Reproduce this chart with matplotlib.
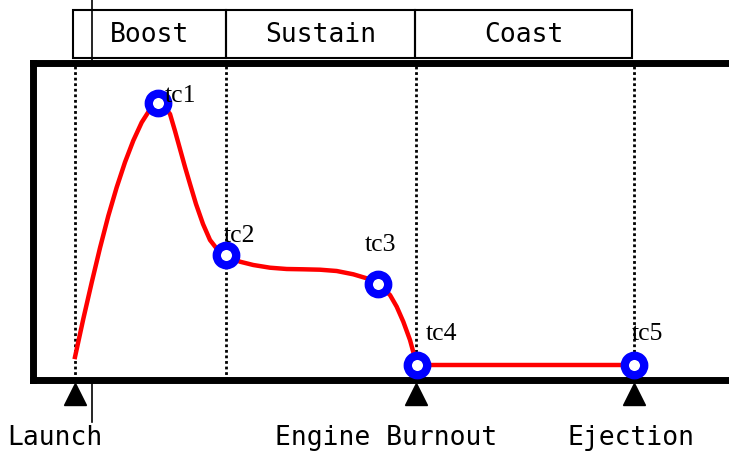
import matplotlib
matplotlib.use('Agg')
import matplotlib.pyplot as plt
from matplotlib.lines import Line2D
from matplotlib.patches import Rectangle

# thrust curve (time, thrust)
curve_t = [0.0, 0.83, 1.67, 2.5, 3.33, 4.17, 5.0, 5.83, 6.67, 7.5, 8.33,
           9.1, 9.5, 10.0, 10.5, 11.0, 11.5, 12.1, 12.8, 13.5, 14.2, 15.1,
           16.5, 17.83, 19.5, 21.17, 22.83, 24.5, 26.17, 27.83, 29.17, 30.33,
           31.5, 32.17, 32.83, 33.5, 34.0, 34.2, 55.9]
curve_y = [2.25, 6.06, 9.7, 13.16, 16.36, 19.22, 21.73, 23.89, 25.71, 27.01, 27.7,
           27.05, 26.55, 24.85, 23.05, 21.25, 19.55, 17.55, 15.55, 13.95, 13.05, 12.45,
           11.78, 11.45, 11.18, 11.05, 11.02, 10.98, 10.85, 10.52, 10.12, 9.52,
           8.45, 7.28, 5.78, 3.95, 2.12, 1.45, 1.45]

# control points
tc_names = ['tc1', 'tc2', 'tc3', 'tc4', 'tc5']
tc_t = [8.33, 15.1, 30.33, 34.2, 55.9]
tc_y = [27.7, 12.45, 9.52, 1.45, 1.45]

# phases
phase_names = ['Boost', 'Sustain', 'Coast']
phase_edges = [-0.2, 15.1, 34.0, 55.7]
phase_lines = [0.0, 15.1, 34.1, 55.9]

# events
event_names = ['Launch', 'Engine Burnout', 'Ejection']
event_t = [0.0, 34.1, 55.9]

W, H = 729, 451
fig = plt.figure(figsize=(W / 100, H / 100), dpi=100)
ax = fig.add_axes([32.5 / W, (H - 379.5) / H, (800 - 32.5) / W, 317 / H])
ax.set_xlim(-4.25, 72.5)
ax.set_ylim(0, 31.7)
ax.set_xticks([])
ax.set_yticks([])
for s in ax.spines.values():
    s.set_linewidth(5)

# stray vertical line behind the axes
fig.add_artist(Line2D([92 / W, 92 / W], [1, 1 - 422 / H], color='black',
                      lw=1.2, zorder=-1))

for x in phase_lines:
    ax.axvline(x, color='black', lw=2, ls=(0, (1, 1)), zorder=1)

ax.plot(curve_t, curve_y, color='red', lw=3.2, zorder=2,
        solid_joinstyle='round')
ax.plot(tc_t, tc_y, 'o', ms=14, mew=6, mec='blue', mfc='white', zorder=3)

tc_off = [(6, 1), (-2, 13), (-14, 33), (9, 25), (-2, 25)]
for name, t, y, off in zip(tc_names, tc_t, tc_y, tc_off):
    ax.annotate(name, (t, y), xytext=off, textcoords='offset pixels',
                family='Liberation Serif', fontsize=18.5, ha='left', va='baseline',
                zorder=4)

# phase boxes above the axes
for i, name in enumerate(phase_names):
    x0, x1 = phase_edges[i], phase_edges[i + 1]
    ax.add_patch(Rectangle((x0, 32.15), x1 - x0, 4.8, fill=False, lw=1.5,
                           ec='black', clip_on=False))
    ax.text((x0 + x1) / 2, 34.45, name, family='DejaVu Sans Mono', fontsize=19,
            ha='center', va='center', clip_on=False)

# event markers below the axes
ax.plot(event_t, [-1.45] * len(event_t), '^', color='black', ms=16, clip_on=False)
ev_off = [-20, -30, -3]
for name, t, off in zip(event_names, event_t, ev_off):
    ax.annotate(name, (t, -6.55), xytext=(off, 0), textcoords='offset pixels',
                family='DejaVu Sans Mono', fontsize=19, ha='center', va='baseline',
                annotation_clip=False)

fig.savefig('out.png', dpi=100)
